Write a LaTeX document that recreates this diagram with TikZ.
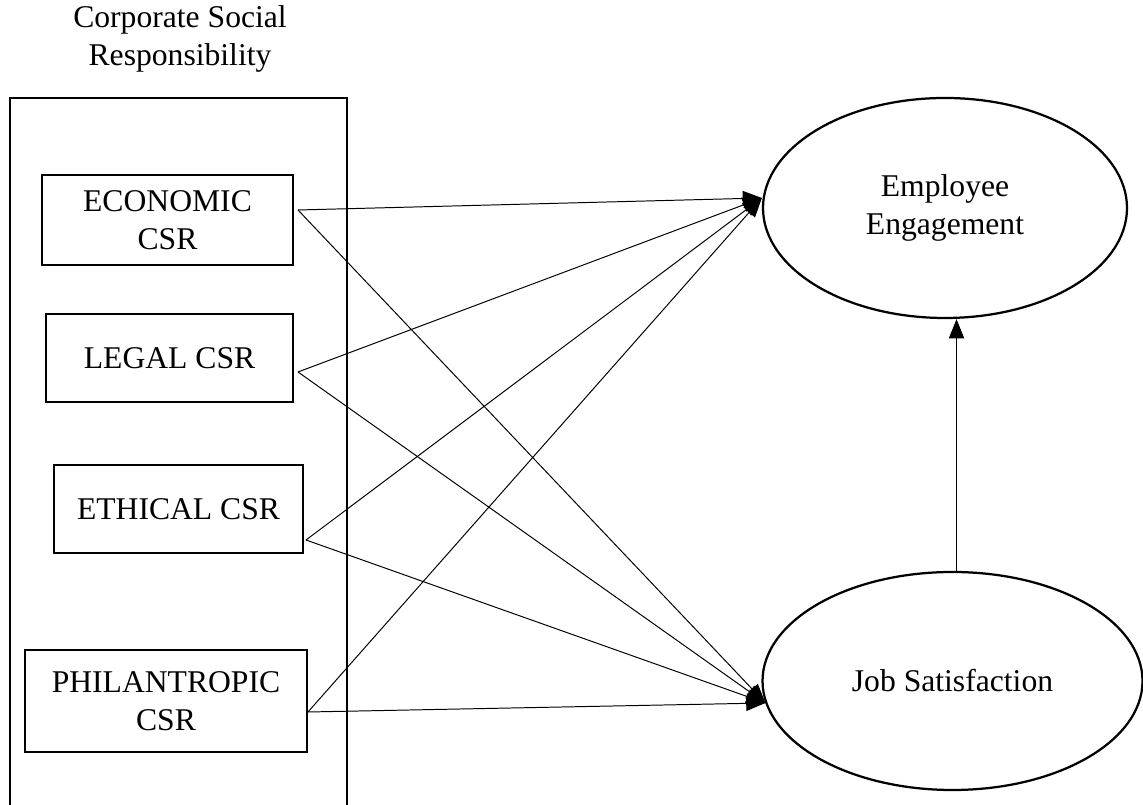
\documentclass[tikz,border=0pt]{standalone}
\usepackage{fontspec}
\setmainfont{Liberation Serif}
\usetikzlibrary{arrows.meta,shapes.geometric}

\begin{document}
\begin{tikzpicture}[
  txt/.style={align=center, font=\fontsize{22.5}{27}\selectfont},
  csrbox/.style={txt, draw, line width=1.4pt, inner sep=0pt},
  outcome/.style={txt, draw, ellipse, line width=1.6pt, inner sep=0pt},
  link/.style={line width=0.7pt, -{Triangle[length=0.48cm,width=0.38cm]}}]
\useasboundingbox (0,0) rectangle (28.575,20.125);
\node[txt] (title) at (4.500,19.150) {Corporate Social\\Responsibility};
\draw[line width=1.4pt] (0.250,0) -- (0.250,17.675) -- (8.675,17.675) -- (8.675,0);
\node[csrbox, minimum width=6.275cm, minimum height=2.250cm] (eco) at (4.188,14.625) {ECONOMIC\\CSR};
\node[csrbox, minimum width=6.175cm, minimum height=2.200cm] (legal) at (4.238,11.175) {LEGAL CSR};
\node[csrbox, minimum width=6.225cm, minimum height=2.200cm] (ethic) at (4.463,7.400) {ETHICAL CSR};
\node[csrbox, minimum width=7.050cm, minimum height=2.550cm] (phil) at (4.150,2.600) {PHILANTROPIC\\CSR};
\node[outcome, minimum width=9.100cm, minimum height=5.500cm] (ee) at (23.625,14.925) {Employee\\Engagement};
\node[outcome, minimum width=9.500cm, minimum height=5.450cm] (js) at (23.813,3.100) {Job Satisfaction};
% to engagement
\draw[link] ([xshift=0.1cm,yshift=0.25cm]eco.east) -- ([yshift=0.25cm]ee.west);
\draw[link] ([xshift=0.1cm,yshift=-0.35cm]legal.east) -- ([yshift=0.25cm]ee.west);
\draw[link] ([xshift=0.05cm,yshift=-0.775cm]ethic.east) -- ([yshift=0.25cm]ee.west);
\draw[link] ([yshift=-0.275cm]phil.east) -- ([yshift=0.25cm]ee.west);
% to satisfaction
\draw[link] ([xshift=0.1cm,yshift=0.25cm]eco.east) -- ([xshift=0.1cm,yshift=-0.55cm]js.west);
\draw[link] ([xshift=0.1cm,yshift=-0.35cm]legal.east) -- ([xshift=0.1cm,yshift=-0.55cm]js.west);
\draw[link] ([xshift=0.05cm,yshift=-0.775cm]ethic.east) -- ([xshift=0.1cm,yshift=-0.55cm]js.west);
\draw[link] ([yshift=-0.275cm]phil.east) -- ([xshift=0.1cm,yshift=-0.55cm]js.west);
% satisfaction to engagement
\draw[link] ([xshift=0.1cm]js.north) -- ([xshift=0.1cm]js.north |- ee.south);
\end{tikzpicture}
\end{document}
